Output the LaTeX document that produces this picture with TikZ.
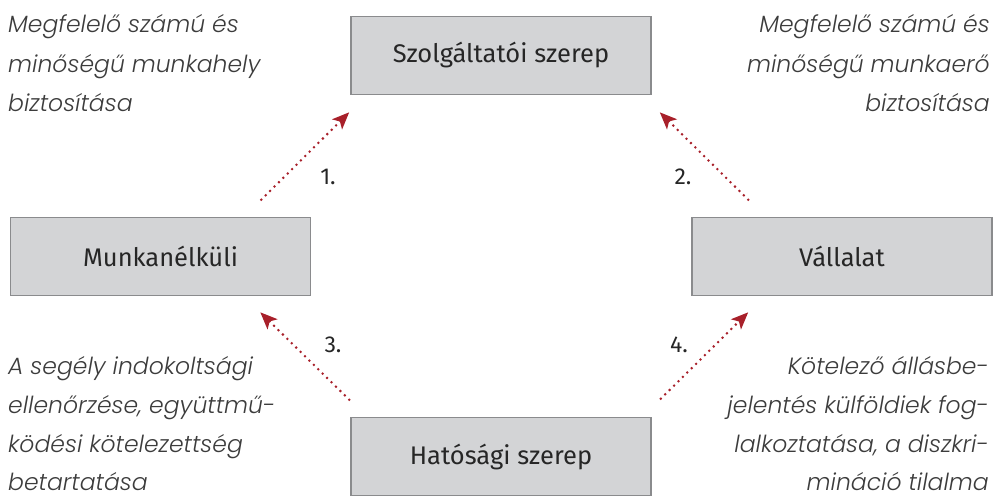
\documentclass[tikz,border=0pt]{standalone}
\usepackage{fontspec}
\setmainfont{Fira Sans}
\newfontfamily\itfont{Poppins}[UprightFont={* Light Italic}]
\usetikzlibrary{arrows.meta}
\definecolor{boxfill}{HTML}{D3D4D6}
\definecolor{boxline}{HTML}{8A8B8D}
\definecolor{arrred}{HTML}{A8202A}
\definecolor{txtgray}{HTML}{3C3C3C}
\tikzset{
  rolebox/.style={draw=boxline, fill=boxfill, line width=1.6pt, minimum width=300pt, minimum height=78pt, inner sep=0pt, font=\fontsize{25.5}{29}\selectfont, text=black!85},
  arr/.style={draw=arrred, line width=2.8pt, line cap=round, dash pattern=on 0pt off 6.2pt, -{Stealth[length=17pt,width=14pt,inset=4pt,line cap=butt,line join=miter]}},
  numlab/.style={font=\fontsize{23}{27}\selectfont, text=black!85, inner sep=0pt},
  note/.style={font=\itfont\fontsize{23.5}{27}\selectfont, text=txtgray, inner sep=0pt}
}
\begin{document}
\begin{tikzpicture}[x=1pt,y=-1pt]
\useasboundingbox (0,0) rectangle (998,500);
\node[rolebox] (s) at (501,55.5) {Szolgáltatói szerep};
\node[rolebox] (m) at (160.5,256.5) {Munkanélküli};
\node[rolebox] (v) at (842,256.5) {Vállalat};
\node[rolebox] (h) at (501,456.5) {Hatósági szerep};

\draw[arr] ([xshift=-50pt,yshift=17pt]m.north east) -- ([xshift=-1pt,yshift=-17pt]s.south west);
\draw[arr] ([xshift=57pt,yshift=17pt]v.north west) -- ([xshift=8pt,yshift=-17pt]s.south east);
\draw[arr] ([xshift=-1pt,yshift=17pt]h.north west) -- ([xshift=-51pt,yshift=-16pt]m.south east);
\draw[arr] ([xshift=9pt,yshift=18pt]h.north east) -- ([xshift=57pt,yshift=-16pt]v.south west);

\node[numlab] (n1) at (328,177) {1.};
\node[numlab] (n2) at (683,177) {2.};
\node[numlab] (n3) at (333,345) {3.};
\node[numlab] (n4) at (679,345) {4.};

\node[note, anchor=base west] (a1) at (8,33) {Megfelelő számú és};
\node[note, anchor=base west] (a2) at (8,73) {minőségű munkahely};
\node[note, anchor=base west] (a3) at (8,112) {biztosítása};

\node[note, anchor=base east] (b1) at (990,33) {Megfelelő számú és};
\node[note, anchor=base east] (b2) at (990,73) {minőségű munkaerő};
\node[note, anchor=base east] (b3) at (990,112) {biztosítása};

\node[note, anchor=base west] (c1) at (8,374) {A segély indokoltsági};
\node[note, anchor=base west] (c2) at (8,413) {ellenőrzése, együttmű-};
\node[note, anchor=base west] (c3) at (8,452) {ködési kötelezettség};
\node[note, anchor=base west] (c4) at (8,490) {betartatása};

\node[note, anchor=base east] (d1) at (989,374) {Kötelező állásbe-};
\node[note, anchor=base east] (d2) at (989,413) {jelentés külföldiek fog-};
\node[note, anchor=base east] (d3) at (989,452) {lalkoztatása, a diszkri-};
\node[note, anchor=base east] (d4) at (989,490) {mináció tilalma};
\end{tikzpicture}
\end{document}
